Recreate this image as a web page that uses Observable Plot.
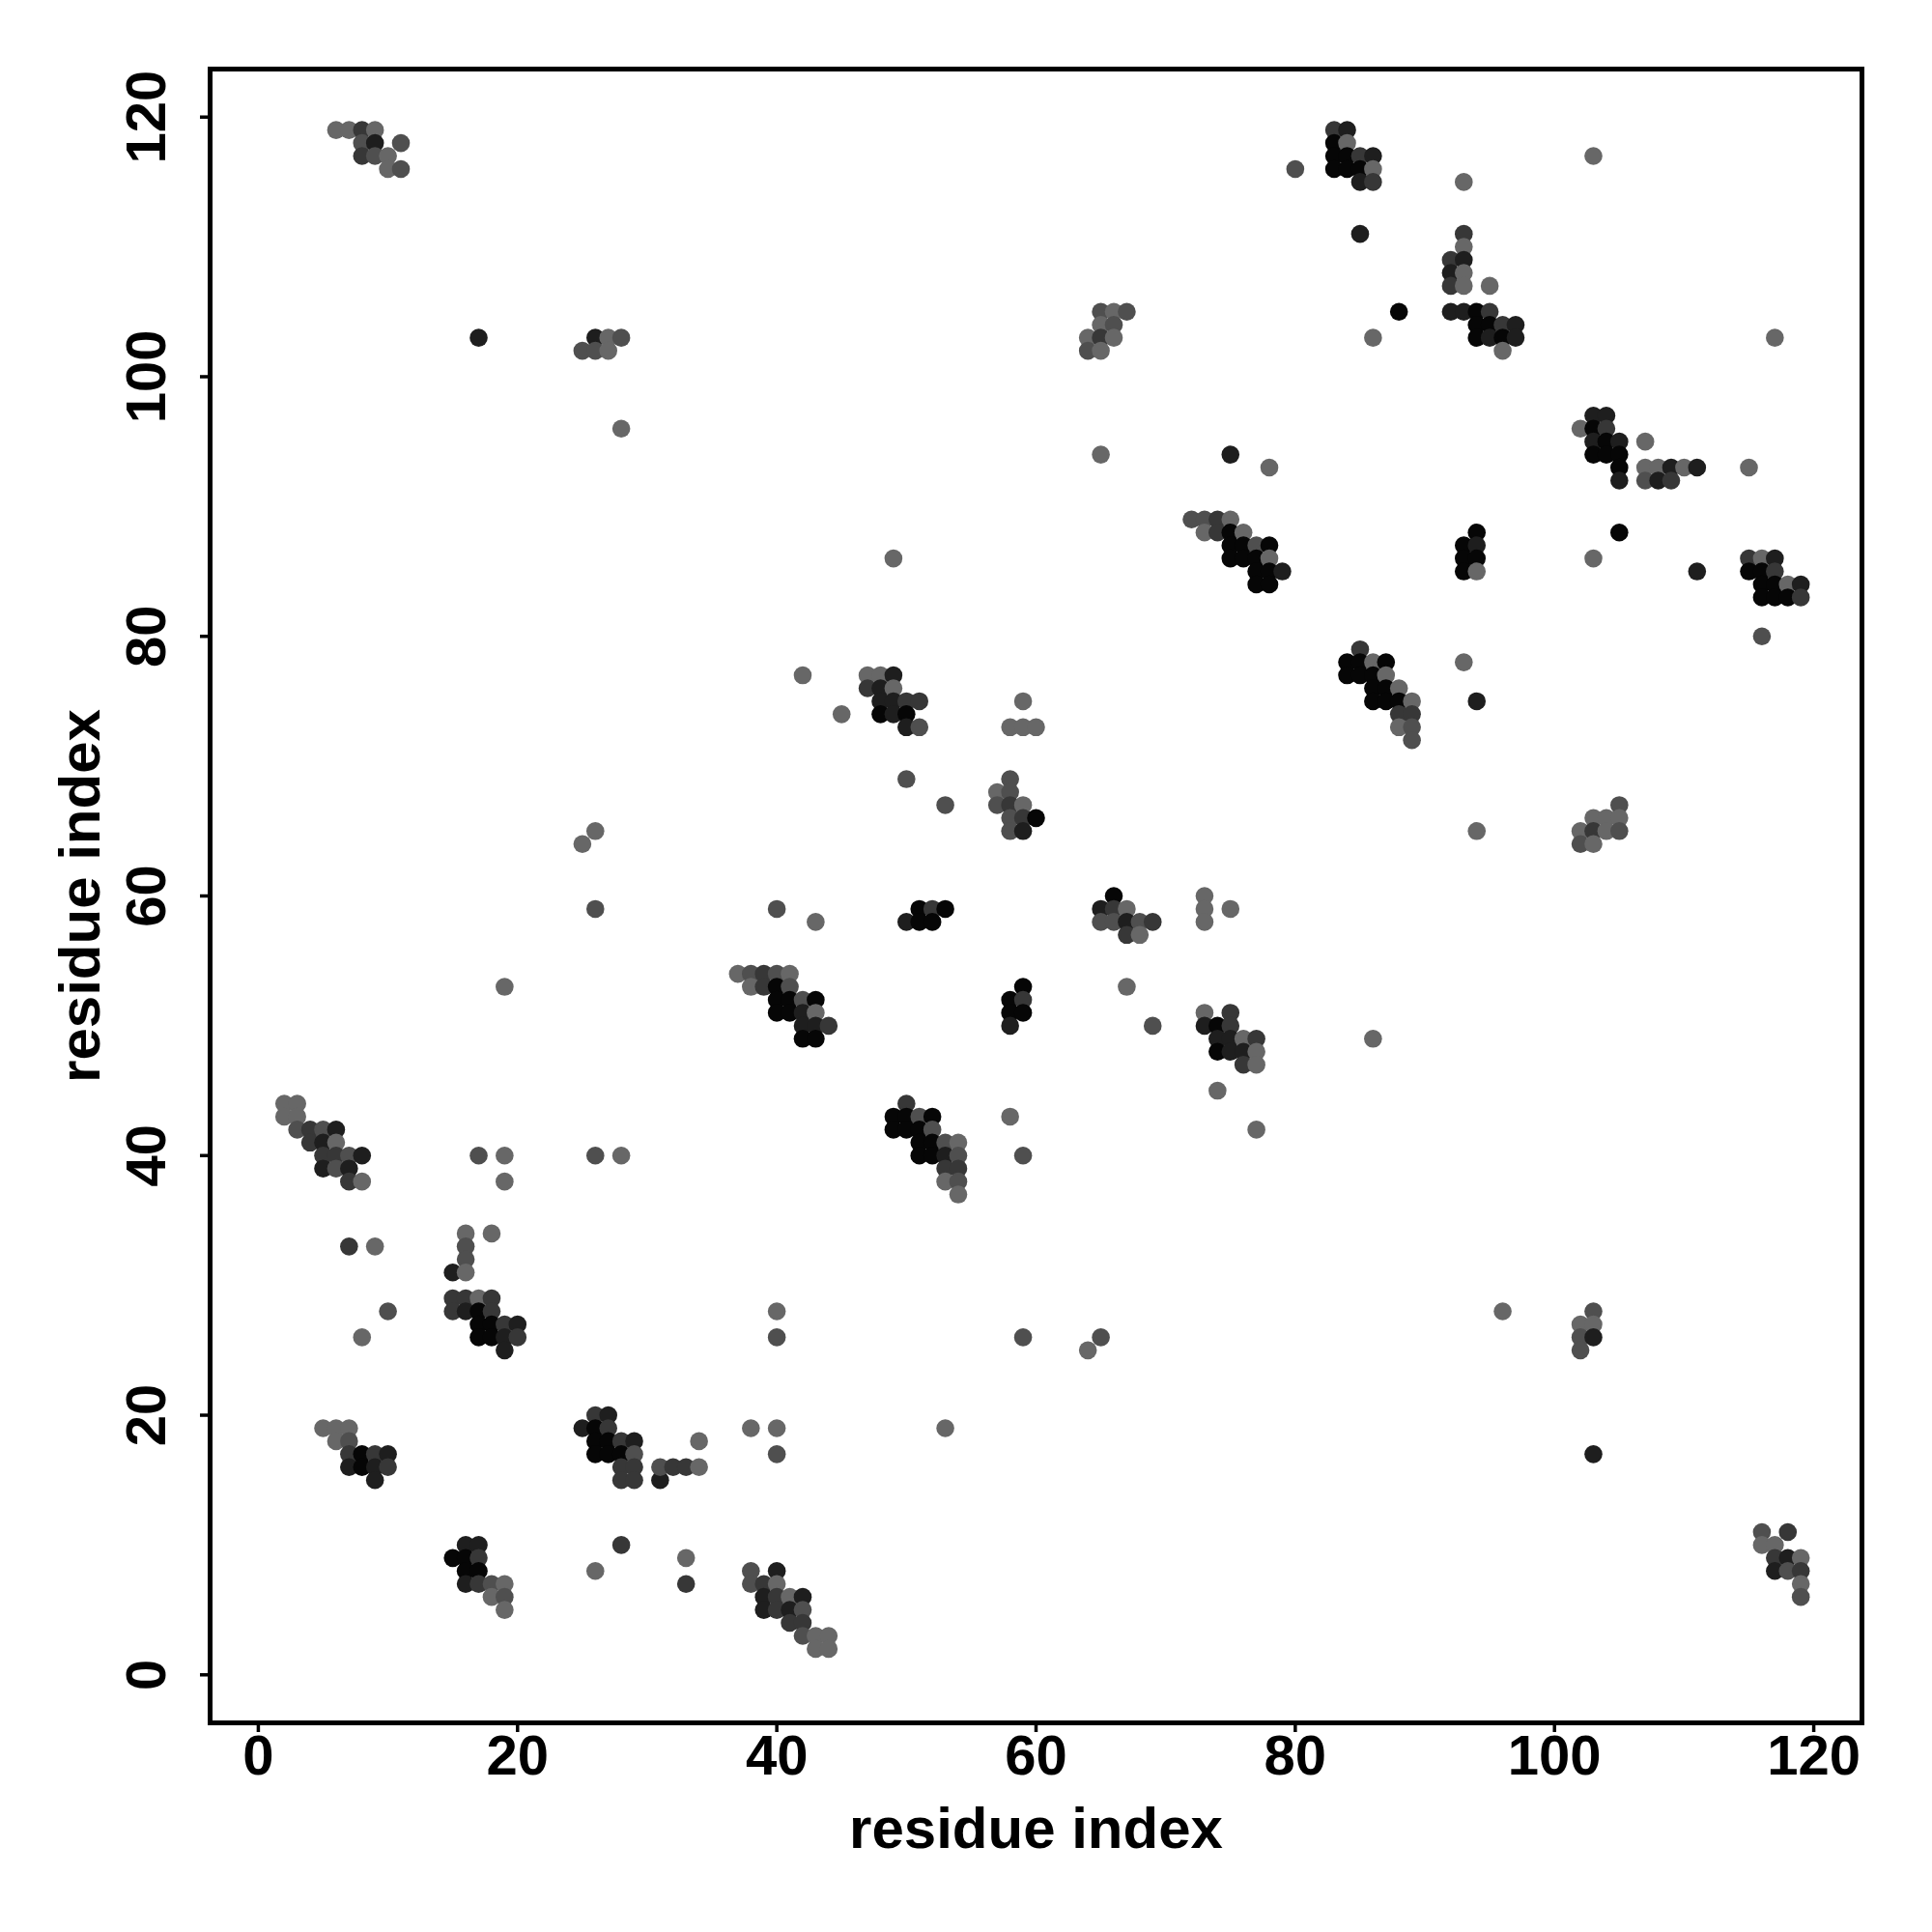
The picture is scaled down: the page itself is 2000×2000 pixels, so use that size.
<!DOCTYPE html>
<html>
<head>
<meta charset="utf-8">
<script src="https://cdn.jsdelivr.net/npm/d3@7"></script>
<script src="https://cdn.jsdelivr.net/npm/@observablehq/plot@0.6"></script>
<style>
  body { margin: 0; background: #fff; }
  #chart svg { display: block; }
</style>
</head>
<body>
<div id="chart"></div>
<script>
// residue i (x), residue j (y), shade level (0 = black ... 4 = mid grey)
const residueI = [
  6,7,8,9,8,9,11,8,9,10,10,11,
  17,26,27,28,25,26,27,28,
  80,65,66,67,65,66,64,65,66,64,65,65,75,78,49,
  72,73,74,75,73,74,75,76,75,76,77,78,75,76,77,78,77,78,79,77,78,
  83,84,83,84,83,84,85,86,83,84,85,86,85,86,
  93,103,85,93,93,92,93,92,93,92,93,95,
  88,86,92,93,94,95,94,95,96,97,94,95,96,97,96,117,
  103,104,102,103,104,103,104,105,103,104,105,105,105,
  107,107,108,109,110,111,107,108,109,115,
  94,93,94,93,94,93,94,105,103,111,
  115,116,117,115,116,117,116,117,118,119,116,117,118,119,
  116,85,84,85,86,87,84,85,86,87,86,87,88,86,87,88,89,88,89,88,89,89,
  93,94,94,105,103,104,105,102,103,104,105,102,103,86,
  42,45,47,48,49,47,48,49,48,49,50,51,48,49,50,50,51,
  50,53,59,58,59,60,
  58,57,58,57,58,59,58,59,60,58,59,
  40,43,51,52,53,50,51,52,
  66,65,66,67,65,66,67,68,69,67,68,
  73,73,75,73,
  37,38,39,40,41,38,39,40,41,40,41,42,43,40,41,42,43,42,43,44,42,43,
  67,69,59,58,59,58,59,58,
  73,75,73,74,75,74,75,76,77,74,75,76,77,76,77,
  74,77,58,59,
  50,49,50,51,52,49,50,51,52,51,52,53,54,51,52,53,54,53,54,53,54,54,
  26,25,26,19,
  2,3,2,3,3,4,5,6,4,5,6,5,6,7,8,5,6,7,7,8,
  17,19,19,26,28,
  7,9,16,18,16,16,15,16,10,8,
  15,16,17,18,15,16,17,18,17,18,19,20,17,18,19,20,19,
  5,6,7,6,7,7,8,9,10,7,8,9,10,9,
  26,27,25,26,27,26,27,28,29,26,27,28,29,28,29,28,29,
  31,31,32,33,34,34,38,
  16,17,15,16,17,16,17,16,17,18,19,18,19,19,
  28,26,33,33,38,38,
  40,40,59,65,64,40,53,40,
  40,39,40,39,40,41,42,39,40,41,42,41,42,42,43,44,43,44,
  96,103,102,103,102,103,102,103,
  116,118,116,117,117,118,119,117,118,119,119,119
];
const residueJ = [
  119,119,119,119,118,118,118,117,117,117,116,116,
  103,103,103,103,102,102,102,96,
  116,105,105,105,104,104,103,103,103,102,102,94,94,93,86,
  89,89,89,89,88,88,88,88,87,87,87,87,86,86,86,86,85,85,85,84,84,
  119,119,118,118,117,117,117,117,116,116,116,116,115,115,
  115,117,111,111,110,109,109,108,108,107,107,107,
  105,103,105,105,105,105,104,104,104,104,103,103,103,103,102,103,
  97,97,96,96,96,95,95,95,94,94,94,93,92,
  95,93,93,93,93,93,92,92,92,93,
  88,87,87,86,86,85,85,88,86,85,
  86,86,86,85,85,85,84,84,84,84,83,83,83,83,
  80,79,78,78,78,78,77,77,77,77,76,76,76,75,75,75,75,74,74,73,73,72,
  78,75,65,67,66,66,66,65,65,65,65,64,64,49,
  77,74,77,77,77,76,76,76,75,75,75,75,74,74,74,73,73,
  69,67,75,73,73,73,
  69,68,68,67,67,67,66,66,66,65,65,
  59,58,59,59,59,58,58,58,
  60,59,59,59,58,58,58,58,58,57,57,
  60,59,59,58,
  54,54,54,54,54,53,53,53,53,52,52,52,52,51,51,51,51,50,50,50,49,49,
  53,50,53,52,52,51,51,50,
  51,51,50,50,50,49,49,49,49,48,48,48,48,47,47,
  45,42,43,40,
  44,43,43,43,43,42,42,42,42,41,41,41,41,40,40,40,40,39,39,38,38,37,
  65,64,59,53,
  44,44,43,43,42,42,42,42,41,41,41,40,40,40,40,39,39,39,38,38,
  40,40,38,40,40,
  33,33,34,34,33,32,31,31,28,26,
  29,29,29,29,28,28,28,28,27,27,27,27,26,26,26,26,25,
  19,19,19,18,18,17,17,17,17,16,16,16,16,15,
  20,20,19,19,19,18,18,18,18,17,17,17,17,16,16,15,15,
  15,16,16,16,16,18,19,
  10,10,9,9,9,8,8,7,7,7,7,6,6,5,
  10,8,9,7,8,7,
  28,26,26,26,25,19,19,17,
  8,7,7,6,6,6,6,5,5,5,5,4,4,3,3,3,2,2,
  28,28,27,27,26,26,25,17,
  11,11,10,10,9,9,9,8,8,8,7,6
];
const shade = [
  4,4,2,4,3,1,3,2,3,4,4,3,
  1,1,4,3,3,3,4,4,
  3,3,4,3,4,3,4,2,4,3,4,4,1,4,4,
  3,3,2,4,4,2,0,4,0,0,3,0,0,0,0,4,0,0,1,0,0,
  2,1,0,4,0,0,2,1,0,0,0,4,1,2,
  4,4,1,2,4,2,1,1,4,2,4,4,
  0,4,1,1,0,2,0,0,2,1,0,1,0,1,4,4,
  1,1,4,0,2,1,0,1,0,0,0,0,1,
  4,4,4,1,4,1,3,1,2,4,
  0,0,1,0,0,0,4,0,4,1,
  2,4,1,0,0,2,0,0,4,1,0,0,0,2,
  3,2,0,0,4,0,0,0,0,4,0,0,4,0,0,0,4,2,2,4,3,3,
  4,1,4,3,4,4,4,4,2,4,3,3,4,4,
  4,4,4,4,1,2,1,4,1,1,2,2,0,1,0,1,3,
  3,3,4,4,4,4,
  3,4,3,3,2,4,3,2,0,3,1,
  3,4,0,2,0,1,0,0,
  0,1,2,4,3,3,1,3,2,2,4,
  4,4,4,4,
  4,3,2,3,4,4,2,0,3,0,0,3,0,0,0,1,4,1,1,2,0,0,
  4,3,0,0,2,0,0,1,
  4,2,1,0,2,1,1,4,2,0,1,1,4,2,4,
  4,4,4,3,
  2,0,0,3,0,0,0,0,3,0,0,3,4,0,0,1,3,2,2,4,3,4,
  4,4,3,4,
  4,4,4,4,3,2,3,1,2,1,4,2,2,3,1,1,3,1,2,4,
  3,4,4,3,4,
  2,4,4,4,3,3,1,4,3,4,
  2,2,4,2,2,1,0,2,0,0,2,1,0,0,1,2,1,
  4,4,4,4,3,2,0,2,1,1,0,1,2,1,
  2,1,1,0,2,0,0,2,1,0,0,0,3,2,2,2,2,
  1,3,2,2,4,4,4,
  1,1,0,0,2,0,0,1,2,3,4,4,3,4,
  2,4,4,2,3,3,
  4,3,3,3,4,4,4,3,
  1,2,4,1,2,4,1,1,2,1,3,2,2,3,4,4,4,4,
  4,3,4,4,3,1,3,1,
  3,2,4,4,2,1,4,1,3,2,4,3
];
const xTicks = [0, 20, 40, 60, 80, 100, 120];
const yTicks = [0, 20, 40, 60, 80, 100, 120];
const xTitle = "residue index";
const yTitle = "residue index";

if (residueI.length !== residueJ.length || residueI.length !== shade.length) {
  throw new Error(`length mismatch ${residueI.length} ${residueJ.length} ${shade.length}`);
}
const contacts = residueI.map((i, k) => ({i, j: residueJ[k], s: shade[k]}));

const chart = Plot.plot({
  width: 2000,
  height: 2000,
  marginLeft: 217,
  marginRight: 73,
  marginTop: 71,
  marginBottom: 217,
  style: {fontFamily: "'Liberation Sans', Arial, Helvetica, sans-serif", fontWeight: "bold", background: "#fff", color: "#000"},
  x: {domain: [-3.72, 123.72]},
  y: {domain: [-3.7, 123.7]},
  color: {type: "linear", domain: [0, 4], range: ["#060606", "#676767"]},
  marks: [
    Plot.dot(contacts, {x: "i", y: "j", r: 9.3, fill: "s", stroke: null}),
    Plot.frame({stroke: "#000", strokeWidth: 5}),
    Plot.axisX({ticks: xTicks, tickSize: 10, tickPadding: 2, fontSize: 58, strokeWidth: 3.5, label: null}),
    Plot.axisY({ticks: yTicks, tickSize: 10, tickPadding: 37, tickRotate: -90, fontSize: 58, strokeWidth: 3.5, label: null}),
    Plot.text([xTitle], {text: d => d, frameAnchor: "bottom", dy: 110, fontSize: 60, fontWeight: "bold", lineAnchor: "middle", textAnchor: "middle"}),
    Plot.text([yTitle], {text: d => d, frameAnchor: "left", rotate: -90, dx: -134, fontSize: 60, fontWeight: "bold", lineAnchor: "middle", textAnchor: "middle"})
  ]
});
document.getElementById("chart").appendChild(chart);
</script>
</body>
</html>
